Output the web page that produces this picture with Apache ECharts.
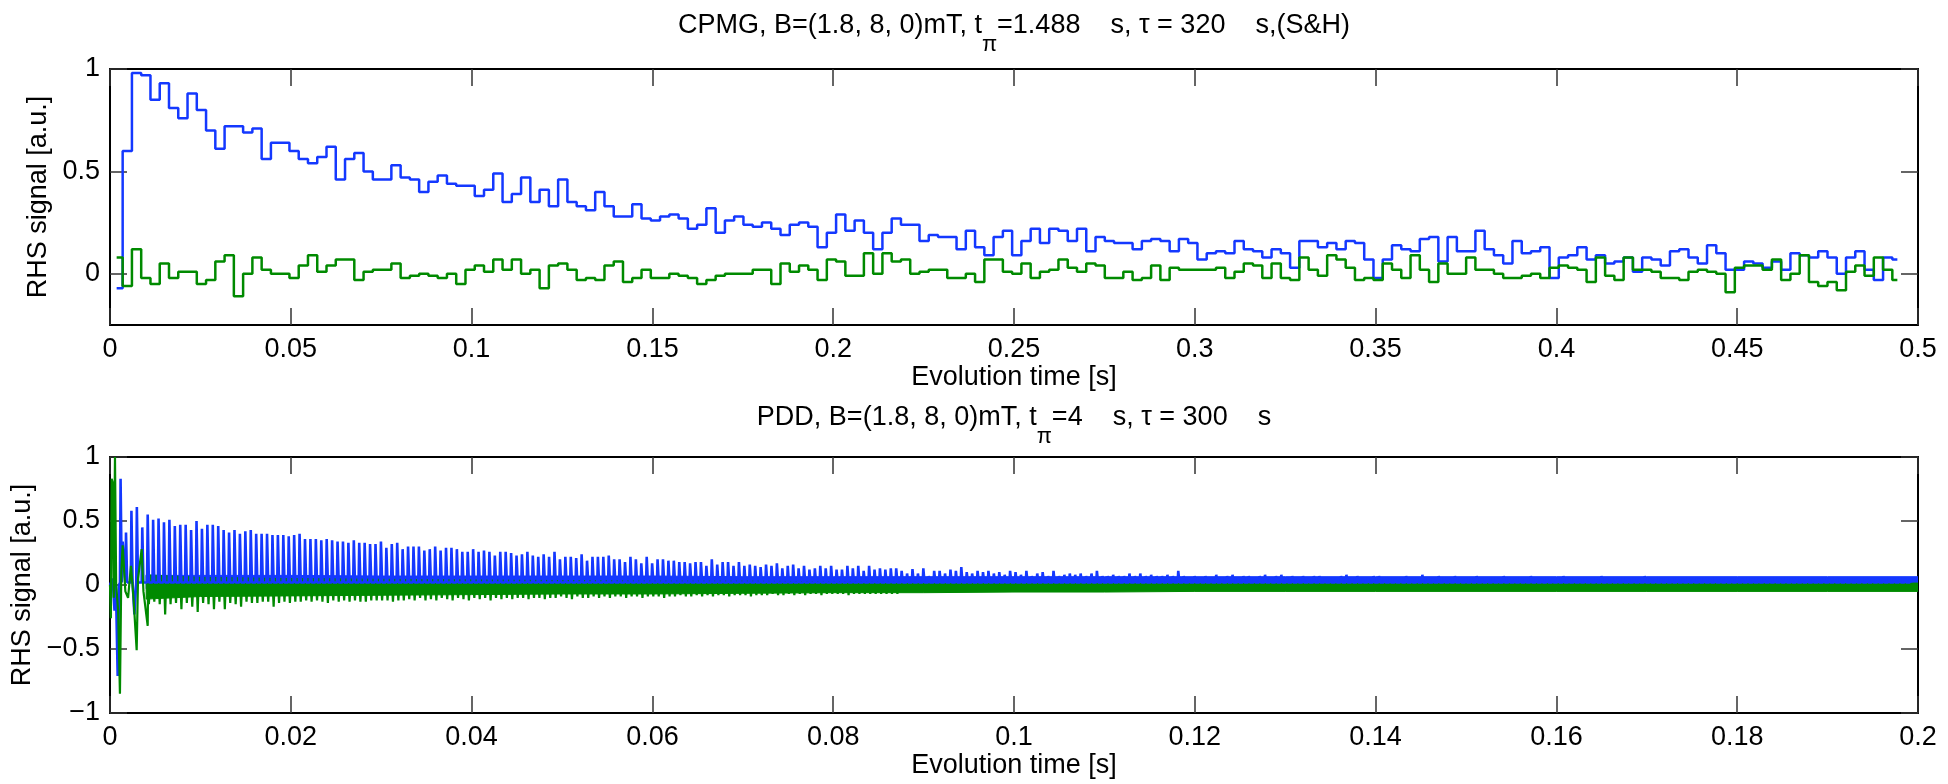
<!DOCTYPE html>
<html><head><meta charset="utf-8">
<script src="https://cdn.jsdelivr.net/npm/echarts@6/dist/echarts.min.js"></script>
<style>html,body{margin:0;padding:0;background:#fff}#c{width:1948px;height:784px}</style>
</head><body><div id="c"></div>
<script>
// ---------- CPMG (top) : sample-and-hold stairs ----------
const cpmgStart = 0.00184;      // first sample time [s]
const cpmgEdge0 = 0.003503;     // first step edge [s]
const cpmgStep = 0.0025623;     // step width [s]
const cpmgEnd = 0.49429;        // last sample end [s]
const cpmgBlue0 = -0.07, cpmgGreen0 = 0.08;
const cpmgBlue = [
0.60,0.98,0.97,0.85,0.93,0.81,0.76,0.88,0.80,0.70,
0.61,0.72,0.72,0.69,0.71,0.56,0.64,0.64,0.60,0.56,
0.54,0.57,0.62,0.46,0.56,0.59,0.50,0.46,0.46,0.53,
0.47,0.46,0.40,0.45,0.48,0.44,0.43,0.43,0.38,0.41,
0.49,0.35,0.39,0.47,0.35,0.41,0.33,0.46,0.35,0.33,
0.31,0.40,0.33,0.28,0.28,0.34,0.27,0.26,0.28,0.29,
0.27,0.22,0.24,0.32,0.20,0.26,0.28,0.24,0.23,0.25,
0.22,0.19,0.24,0.25,0.23,0.13,0.20,0.29,0.21,0.26,
0.20,0.12,0.20,0.27,0.24,0.24,0.16,0.19,0.18,0.18,
0.12,0.21,0.13,0.09,0.18,0.21,0.09,0.16,0.22,0.15,
0.22,0.21,0.16,
0.22,0.11,0.18,0.16,0.15,0.15,0.12,0.16,0.17,0.16,
0.11,0.17,0.15,0.07,0.10,0.11,0.10,0.16,0.12,0.11,
0.08,0.12,0.10,0.03,0.16,0.16,0.13,0.15,0.12,0.16,
0.15,0.07,-0.02,0.07,0.14,0.12,0.11,0.17,0.18,0.06,
0.18,0.11,0.11,0.21,0.12,0.09,0.05,0.16,0.10,0.11,
0.13,-0.02,0.08,
0.09,0.13,0.07,0.09,0.05,0.06,0.08,0.01,0.08,0.07,
0.04,0.11,0.12,0.08,0.05,0.14,0.10,0.02,0.02,0.06,
0.05,0.03,0.06,0.02,0.10,0.09,0.08,0.11,0.08,0.00,
0.08,0.11,0.02,-0.03,0.08,0.07];
const cpmgGreen = [
-0.06,0.12,-0.02,-0.05,0.05,-0.02,0.01,0.01,-0.05,-0.03,
0.06,0.09,-0.11,0.00,0.08,0.02,0.00,0.00,-0.02,0.04,
0.09,0.01,0.04,0.07,0.07,-0.03,0.01,0.02,0.02,0.05,
-0.02,-0.01,0.00,-0.01,-0.02,0.00,-0.05,0.02,0.04,0.01,
0.07,0.02,0.07,0.00,0.02,-0.07,0.04,0.05,0.02,-0.03,
-0.02,-0.03,0.04,0.06,-0.04,-0.02,0.02,-0.02,-0.02,0.00,
-0.01,-0.02,-0.05,-0.03,-0.01,0.00,0.00,0.00,0.02,0.02,
-0.05,0.05,0.01,0.04,0.02,-0.03,0.07,0.06,-0.01,-0.01,
0.10,0.00,0.10,0.06,0.07,0.00,0.01,0.02,0.02,-0.02,
-0.02,0.00,-0.04,0.07,0.07,0.01,0.00,0.05,-0.02,0.01,
0.02,0.07,0.03,
0.01,0.05,0.04,-0.02,-0.02,0.01,-0.03,-0.02,0.04,-0.03,
0.03,0.02,0.02,0.02,0.02,0.03,-0.02,0.01,0.05,0.04,
-0.02,0.05,-0.02,-0.03,0.08,0.02,-0.01,0.09,0.07,0.03,
-0.03,-0.02,-0.03,0.05,0.02,-0.02,0.09,0.02,-0.04,0.05,
0.00,0.00,0.08,0.02,0.02,0.00,-0.02,-0.02,-0.01,0.00,
-0.02,0.03,0.04,
0.03,0.02,-0.04,0.08,-0.01,-0.03,0.08,0.02,0.02,0.01,
-0.02,-0.02,-0.03,0.01,0.02,0.01,0.00,-0.09,0.03,0.04,
0.04,0.02,0.07,-0.03,0.00,0.09,-0.04,-0.06,-0.04,-0.08,
0.01,0.04,-0.01,0.08,0.02,-0.03];

// ---------- PDD (bottom) ----------
const pddFirst = 0.0012;   // first echo time [s]
const pddPeriod = 0.0006;  // echo spacing [s]
const pddBlueBase = 0.02;  // level the blue echoes rise from
const pddBluePeaks = [
0.83,0.41,0.58,0.61,0.45,0.55,0.51,0.52,0.49,0.51,
0.46,0.47,0.47,0.43,0.50,0.44,0.47,0.47,0.46,0.43,
0.41,0.43,0.40,0.42,0.43,0.40,0.40,0.40,0.39,0.39,
0.39,0.38,0.39,0.40,0.36,0.36,0.36,0.35,0.36,0.35,
0.34,0.34,0.33,0.35,0.33,0.33,0.32,0.32,0.34,0.29,
0.32,0.33,
0.28,0.30,0.30,0.30,0.27,0.28,0.30,0.27,0.29,0.29,
0.28,0.26,0.26,0.28,0.26,0.27,0.26,0.23,0.26,0.26,
0.25,0.23,0.24,0.26,0.23,0.22,0.24,0.22,0.26,0.20,
0.22,0.22,0.21,0.24,0.19,0.22,0.22,0.22,0.23,0.20,
0.20,0.18,0.22,0.20,0.17,0.22,0.17,0.20,0.20,0.19,
0.19,0.18,0.18,0.17,0.18,0.18,0.15,0.20,0.16,0.18,
0.18,0.15,0.18,0.15,0.16,0.15,0.14,0.16,0.15,0.17,
0.13,0.15,0.16,0.13,0.15,0.12,0.13,0.15,0.13,0.15,
0.12,0.12,0.15,0.13,0.15,0.11,0.15,0.12,0.13,0.12,
0.13,0.13,
0.11,0.09,0.125,0.09,0.13,0.07,0.11,0.11,0.09,0.12,
0.11,0.14,0.10,0.09,0.11,0.10,0.11,0.09,0.10,0.08,
0.11,0.10,0.08,0.11,0.07,0.09,0.10,0.07,0.11,0.07,
0.08,0.09,0.08,0.09,0.07,0.09,0.11,0.07,0.07,0.08,
0.07,0.07,0.09,0.07,0.09,0.07,0.08,0.07,0.07,0.08,
0.07,0.11,0.07,0.06,0.07,0.06,0.07,0.06,0.08,0.06,
0.07,0.08,0.06,0.07,0.07,0.06,0.07,0.08,0.06,0.07,
0.08,0.06,0.07,0.05,0.07,0.05,0.07,0.07,0.05,0.05,
0.05,0.07,0.08,0.06,0.07,0.05,0.06,0.07,0.07,0.06,
0.05,0.05,
0.06,0.07,0.05,0.06,0.08,0.06,0.05,0.07,0.06,0.05,
0.07,0.06,0.05,0.06,0.07,0.05,0.06,0.06,0.05,0.07,
0.06,0.05,0.06,0.05,0.07,0.06,0.05,0.06,0.05,0.06,
0.07,0.05,0.06,0.05,0.06,0.05,0.06,0.07,0.05,0.06,
0.05,0.06,0.05,0.06,0.05,0.07,0.05,0.06,0.05,0.06,
0.05,0.06,0.05,0.06,0.06,0.05,0.06,0.05,0.06,0.05,
0.06,0.05,0.06,0.05,0.06,0.05,0.05,0.06,0.05,0.06,
0.05,0.06,0.05,0.06,0.05,0.06,0.05,0.05,0.06,0.05,
0.06,0.05,0.06,0.05,0.05,0.06,0.05,0.06,0.05,0.05,
0.06,0.05,0.06,0.05,0.06];
// green dips, one per echo, starting at echo index pddGreenDipK0
const pddGreenDipK0 = 5;
const pddGreenBase = -0.02;
const pddGreenDips = [
-0.15,-0.13,-0.15,-0.23,-0.15,-0.14,-0.19,-0.14,-0.17,-0.21,
-0.14,-0.15,-0.19,-0.13,-0.19,-0.14,-0.15,-0.17,-0.13,-0.14,
-0.14,-0.13,-0.13,-0.17,-0.14,-0.13,-0.14,-0.13,-0.13,-0.12,
-0.13,-0.12,-0.13,-0.14,-0.12,-0.13,-0.12,-0.13,-0.12,-0.13,
-0.13,-0.12,-0.12,-0.12,-0.12,-0.13,-0.12,
-0.12,-0.11,-0.12,-0.10,-0.12,-0.11,-0.12,-0.10,-0.11,-0.12,
-0.10,-0.11,-0.12,-0.10,-0.11,-0.10,-0.12,-0.10,-0.11,-0.10,
-0.11,-0.10,-0.10,-0.11,-0.10,-0.10,-0.11,-0.10,-0.10,-0.09,
-0.10,-0.11,-0.09,-0.10,-0.10,-0.09,-0.10,-0.09,-0.10,-0.09,
-0.09,-0.10,-0.09,-0.09,-0.10,-0.09,-0.09,-0.09,-0.10,-0.09,
-0.09,-0.08,-0.09,-0.09,-0.08,-0.09,-0.08,-0.09,-0.08,-0.08,
-0.09,-0.08,-0.08,-0.08,-0.09,-0.08,-0.08,-0.08,-0.07,-0.08,
-0.08,-0.07,-0.08,-0.07,-0.08,-0.07,-0.07,-0.08,-0.07,-0.07,
-0.07,-0.07,-0.08,-0.07,-0.07,-0.07,-0.07,-0.07,-0.07,-0.07,
-0.07,-0.07];
const pddBlueEarly = [[0,0],[0.0003,0.05],[0.0005,-0.2],[0.00065,0.0],[0.00085,-0.71],[0.001,0.0],
  [0.0014,0.34],[0.0016,0.34],[0.0027,-0.23]];
const pddGreenEarly = [[0,0],[0.0001,-0.26],[0.00018,0.83],[0.0003,0.8],[0.00042,-0.1],[0.00055,1.0],
  [0.00068,0.0],[0.0009,-0.2],[0.0011,-0.85],[0.00125,0.1],[0.0014,0.31],[0.0016,0.3],[0.0017,-0.05],
  [0.002,-0.1],[0.00232,0.15],[0.0026,-0.1],[0.00295,-0.51],[0.0031,0.05],[0.0034,0.22],[0.0035,0.28],
  [0.0037,-0.05],[0.00417,-0.32],[0.0043,0.0]];
// noise-band envelopes
const pddBandT = [0.004,0.01,0.02,0.03,0.04,0.05,0.06,0.07,0.08,0.09,0.10,0.11,0.12,0.13,0.14,0.15,0.16,0.17,0.18,0.19,0.20];
const pddBlueTop = [0.075,0.075,0.075,0.07,0.07,0.07,0.07,0.065,0.065,0.065,0.065,0.065,0.065,0.065,0.065,0.065,0.065,0.065,0.065,0.065,0.065];
const pddBlueBot = [-0.03,-0.02,-0.02,-0.01,-0.01,-0.01,0,0,0,0,0,0,0,0,0,0,0,0,0,0,0];
const pddGreenTop = [0.08,0.06,0.05,0.045,0.04,0.035,0.03,0.03,0.025,0.02,0.02,0.02,0.015,0.015,0.015,0.015,0.015,0.015,0.015,0.015,0.015];
const pddGreenBot = [-0.11,-0.09,-0.085,-0.08,-0.075,-0.07,-0.07,-0.065,-0.06,-0.06,-0.055,-0.055,-0.05,-0.05,-0.05,-0.05,-0.05,-0.05,-0.05,-0.05,-0.05];

// tick labels
const cpmgYTicks = [0, 0.5, 1];

// ---------- build ----------
const BLUE = '#1438ff', GREEN = '#008a00';
const FONT = 'Liberation Sans, Arial, Helvetica, sans-serif';
const FS = 27;

function stairs(v0, vals) {
  const d = [[cpmgStart, v0]];
  vals.forEach((v, i) => d.push([cpmgEdge0 + i * cpmgStep, v]));
  d.push([cpmgEnd, vals[vals.length - 1]]);
  return d;
}
const blueLine = pddBlueEarly.slice();
pddBluePeaks.forEach((p, k) => {
  const t = pddFirst + k * pddPeriod;
  blueLine.push([t - 0.0001, pddBlueBase], [t - 0.00003, p], [t + 0.00003, p], [t + 0.0001, pddBlueBase]);
});
blueLine.sort((a, b) => a[0] - b[0]);
const greenLine = pddGreenEarly.slice();
pddGreenDips.forEach((d, i) => {
  const t = pddFirst + (pddGreenDipK0 + i) * pddPeriod + 0.0001;
  greenLine.push([t - 0.00009, pddGreenBase], [t, d], [t + 0.00009, pddGreenBase]);
});
greenLine.sort((a, b) => a[0] - b[0]);

function band(top, bot, color) {
  return {
    type: 'custom', xAxisIndex: 2, yAxisIndex: 2, clip: true, silent: true,
    encode: { x: 0, y: [1, 2] },
    data: pddBandT.map((t, i) => [t, top[i], bot[i]]),
    renderItem: function (params, api) {
      if (params.dataIndex !== 0) return null;
      const pts = [];
      for (let i = 0; i < pddBandT.length; i++) pts.push(api.coord([pddBandT[i], top[i]]));
      for (let i = pddBandT.length - 1; i >= 0; i--) pts.push(api.coord([pddBandT[i], bot[i]]));
      return { type: 'polygon', shape: { points: pts }, style: { fill: color, stroke: color, lineWidth: 1 } };
    }
  };
}

const minusFmt = v => (v < 0 ? '\u2212' + Math.abs(v) : String(v));
const axisLine = { show: true, onZero: false, lineStyle: { color: '#000', width: 2 } };
const tickIn = { show: true, inside: true, length: 17, lineStyle: { color: '#333', width: 1.5 } };
const lbl = { color: '#000', fontSize: FS, fontFamily: FONT };

function xAx(grid, max, interval, pos, showLabel) {
  return {
    type: 'value', gridIndex: grid, min: 0, max: max, interval: interval, position: pos,
    axisLine: axisLine, axisTick: tickIn, splitLine: { show: false },
    axisLabel: showLabel ? Object.assign({ margin: 11, formatter: minusFmt }, lbl) : { show: false },
    name: showLabel ? 'Evolution time [s]' : '', nameLocation: 'middle', nameGap: 37,
    nameTextStyle: { color: '#000', fontSize: FS, fontFamily: FONT }
  };
}
const richT = {
  n: { fontSize: FS, fontFamily: FONT, color: '#000', fontWeight: 'normal' },
  s: { fontSize: 22, fontFamily: FONT, color: '#000', fontWeight: 'normal', padding: [38, 0, 0, 0] }
};

const option = {
  animation: false,
  backgroundColor: '#fff',
  title: [
    { left: 1014, top: -4, padding: 0, textAlign: 'center',
      text: '{n|CPMG, B=(1.8, 8, 0)mT, t}{s|\u03c0}{n|=1.488    s, \u03c4 = 320    s,(S&H)}',
      textStyle: { fontWeight: 'normal', rich: richT } },
    { left: 1014, top: 388, padding: 0, textAlign: 'center',
      text: '{n|PDD, B=(1.8, 8, 0)mT, t}{s|\u03c0}{n|=4    s, \u03c4 = 300    s}',
      textStyle: { fontWeight: 'normal', rich: richT } }
  ],
  grid: [
    { left: 110, right: 30, top: 69, height: 256, containLabel: false },
    { left: 110, right: 30, top: 457, height: 256, containLabel: false }
  ],
  xAxis: [
    xAx(0, 0.5, 0.05, 'bottom', true),
    xAx(0, 0.5, 0.05, 'top', false),
    xAx(1, 0.2, 0.02, 'bottom', true),
    xAx(1, 0.2, 0.02, 'top', false)
  ],
  yAxis: [
    { type: 'value', gridIndex: 0, min: -0.25, max: 1, position: 'left',
      axisLine: axisLine, splitLine: { show: false },
      axisTick: Object.assign({ customValues: cpmgYTicks }, tickIn),
      axisLabel: Object.assign({ customValues: cpmgYTicks, margin: 10, formatter: minusFmt }, lbl),
      name: 'RHS signal [a.u.]', nameLocation: 'middle', nameGap: 56,
      nameTextStyle: { color: '#000', fontSize: FS, fontFamily: FONT } },
    { type: 'value', gridIndex: 0, min: -0.25, max: 1, position: 'right',
      axisLine: axisLine, splitLine: { show: false },
      axisTick: Object.assign({ customValues: cpmgYTicks }, tickIn), axisLabel: { show: false } },
    { type: 'value', gridIndex: 1, min: -1, max: 1, interval: 0.5, position: 'left',
      axisLine: axisLine, splitLine: { show: false }, axisTick: tickIn,
      axisLabel: Object.assign({ margin: 10, formatter: minusFmt }, lbl),
      name: 'RHS signal [a.u.]', nameLocation: 'middle', nameGap: 71,
      nameTextStyle: { color: '#000', fontSize: FS, fontFamily: FONT } },
    { type: 'value', gridIndex: 1, min: -1, max: 1, interval: 0.5, position: 'right',
      axisLine: axisLine, splitLine: { show: false }, axisTick: tickIn, axisLabel: { show: false } }
  ],
  series: [
    { type: 'line', name: 'cpmg-blue', xAxisIndex: 0, yAxisIndex: 0, step: 'end', symbol: 'none',
      lineStyle: { color: BLUE, width: 2.5 }, data: stairs(cpmgBlue0, cpmgBlue) },
    { type: 'line', name: 'cpmg-green', xAxisIndex: 0, yAxisIndex: 0, step: 'end', symbol: 'none',
      lineStyle: { color: GREEN, width: 2.5 }, data: stairs(cpmgGreen0, cpmgGreen) },
    band(pddBlueTop, pddBlueBot, BLUE),
    { type: 'line', name: 'pdd-blue', xAxisIndex: 2, yAxisIndex: 2, symbol: 'none',
      lineStyle: { color: BLUE, width: 2.6 }, data: blueLine },
    band(pddGreenTop, pddGreenBot, GREEN),
    { type: 'line', name: 'pdd-green', xAxisIndex: 2, yAxisIndex: 2, symbol: 'none',
      lineStyle: { color: GREEN, width: 2.2 }, data: greenLine }
  ]
};
const chart = echarts.init(document.getElementById('c'), null, { renderer: 'canvas' });
chart.setOption(option);
</script>
</body></html>
